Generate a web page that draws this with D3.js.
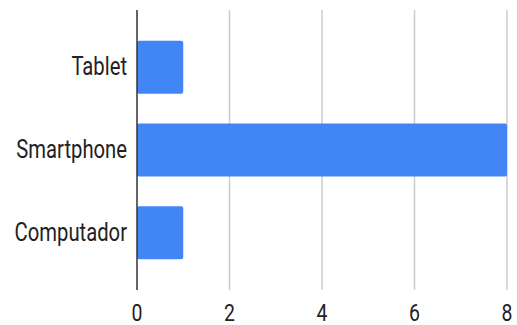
<!DOCTYPE html>
<html>
<head>
<meta charset="utf-8">
<script src="https://cdn.jsdelivr.net/npm/d3@7"></script>
<style>
  body { margin: 0; background: #fff; }
  text { font-family: Roboto, sans-serif; fill: #222; }
</style>
</head>
<body>
<div id="chart"></div>
<script>
const categories = ["Tablet", "Smartphone", "Computador"];
const values = [1, 8, 1];
const ticks = [0, 2, 4, 6, 8];

const width = 517, height = 325;
const plotLeft = 137, plotRight = 507, plotTop = 10, plotBottom = 290;
const squeeze = 0.81; // text in the picture is narrow and tall

const svg = d3.select("#chart").append("svg")
  .attr("width", width)
  .attr("height", height);

const x = d3.scaleLinear().domain([0, 8]).range([plotLeft, plotRight]);
const y = d3.scaleBand().domain(categories).range([plotTop, plotBottom])
  .paddingInner(0.36).paddingOuter(0.37);

// gridlines
svg.selectAll(".grid")
  .data(ticks.filter(t => t !== 0))
  .enter().append("line")
  .attr("x1", d => x(d)).attr("x2", d => x(d))
  .attr("y1", plotTop).attr("y2", plotBottom)
  .attr("stroke", "#cccccc")
  .attr("stroke-width", 1.5);

// bars
svg.selectAll(".bar")
  .data(categories)
  .enter().append("rect")
  .attr("x", x(0))
  .attr("y", d => y(d))
  .attr("width", (d, i) => x(values[i]) - x(0))
  .attr("height", y.bandwidth())
  .attr("rx", 2)
  .attr("fill", "#4285f4");

// baseline
svg.append("line")
  .attr("x1", x(0)).attr("x2", x(0))
  .attr("y1", plotTop).attr("y2", plotBottom)
  .attr("stroke", "#333")
  .attr("stroke-width", 1.5);

// category labels
svg.selectAll(".cat")
  .data(categories)
  .enter().append("text")
  .attr("transform", d => "translate(" + (x(0) - 10) + "," + (y(d) + y.bandwidth() / 2) + ") scale(" + squeeze + ",1)")
  .attr("dy", "0.33em")
  .attr("text-anchor", "end")
  .style("font-size", "25px")
  .text(d => d);

// tick labels
svg.selectAll(".tick")
  .data(ticks)
  .enter().append("text")
  .attr("transform", d => "translate(" + x(d) + ",321) scale(" + squeeze + ",1)")
  .attr("text-anchor", "middle")
  .style("font-size", "24px")
  .text(d => d);
</script>
</body>
</html>
